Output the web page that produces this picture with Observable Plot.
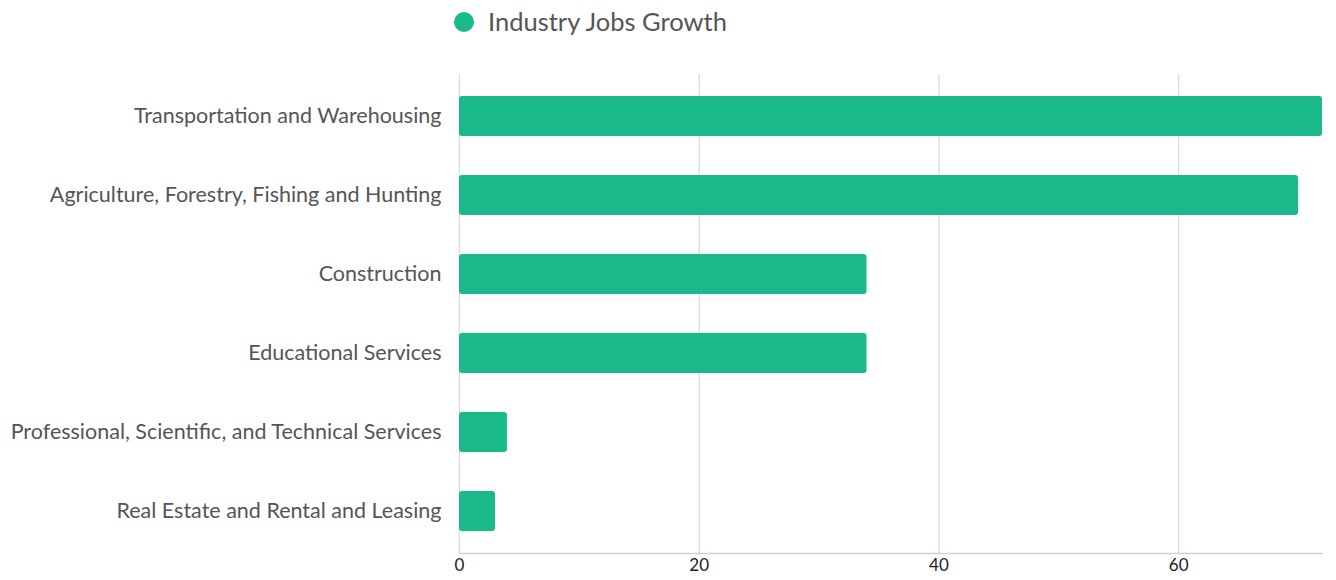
<!DOCTYPE html>
<html>
<head>
<meta charset="utf-8">
<script src="https://cdn.jsdelivr.net/npm/d3@7"></script>
<script src="https://cdn.jsdelivr.net/npm/@observablehq/plot@0.6"></script>
<style>
  body { margin: 0; background: #fff; font-family: Lato, sans-serif; }
  #legend { height: 50px; position: relative; }
  #legend .dot { position: absolute; left: 454px; top: 12px; width: 20px; height: 20px; border-radius: 50%; background: #1ab98a; }
  #legend .lbl { position: absolute; left: 488px; top: 5px; font-size: 25.5px; color: #555; line-height: 32px; }
</style>
</head>
<body>
<div id="legend"><span class="dot"></span><span class="lbl">Industry Jobs Growth</span></div>
<div id="chart"></div>
<script>
const categories = [
  "Transportation and Warehousing",
  "Agriculture, Forestry, Fishing and Hunting",
  "Construction",
  "Educational Services",
  "Professional, Scientific, and Technical Services",
  "Real Estate and Rental and Leasing"
];
const values = [72, 70, 34, 34, 4, 3];
const xTicks = [0, 20, 40, 60];

const data = categories.map((c, i) => ({category: c, value: values[i]}));

const chart = Plot.plot({
  width: 1336,
  height: 530,
  marginLeft: 459,
  marginRight: 14,
  marginTop: 24,
  marginBottom: 27,
  style: {fontFamily: "Lato, sans-serif", background: "#fff"},
  x: {domain: [0, 72], ticks: xTicks, label: null},
  y: {domain: categories, paddingInner: 0.5, paddingOuter: 0.25, label: null},
  marks: [
    Plot.gridX(xTicks, {stroke: "#dcdcdc", strokeOpacity: 1, strokeWidth: 1.3}),
    Plot.frame({anchor: "bottom", stroke: "#d0d0d0", strokeWidth: 1.5}),
    Plot.barX(data, {x: "value", y: "category", fill: "#1ab98a", rx: 3, ry: 3}),
    Plot.axisX(xTicks, {tickSize: 0, tickPadding: 5, fontSize: 17, fill: "#222", label: null}),
    Plot.axisY({tickSize: 0, tickPadding: 18, fontSize: 21.5, fill: "#555", label: null})
  ]
});
document.getElementById("chart").appendChild(chart);
</script>
</body>
</html>
